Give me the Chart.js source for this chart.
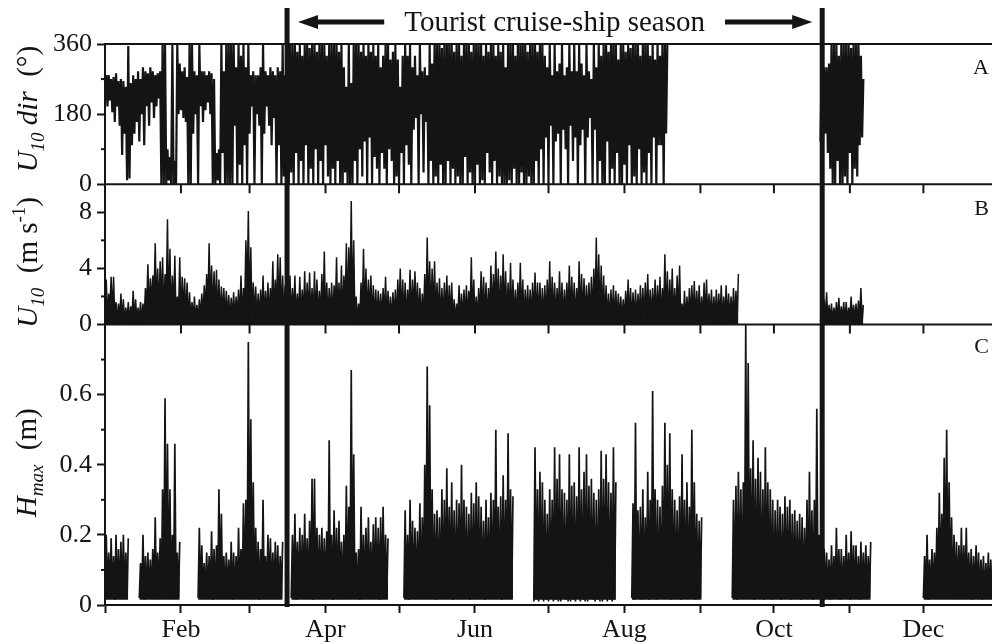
<!DOCTYPE html>
<html>
<head>
<meta charset="utf-8">
<script src="https://cdn.jsdelivr.net/npm/chart.js@4.4.1/dist/chart.umd.min.js"></script>
<style>
  html, body { margin: 0; padding: 0; background: #fff; }
  #wrap { position: relative; width: 992px; height: 642px; }
</style>
</head>
<body>
<div id="wrap"><canvas id="chart" width="992" height="642"></canvas></div>
<script>
const n = null;

// x axis: day of year
const monthStarts = [0, 31, 59, 90, 120, 151, 181, 212, 243, 273, 304, 334];
const monthLabels = ['', 'Feb', '', 'Apr', '', 'Jun', '', 'Aug', '', 'Oct', '', 'Dec'];
const seasonStart = 74.3;
const seasonEnd = 292.7;
const seasonLabel = 'Tourist cruise-ship season';

const dirTicks = [0, 180, 360], dirMinor = [90, 270];
const speedTicks = [0, 4, 8], speedMinor = [2, 6];
const hmaxTicks = [0, 0.2, 0.4, 0.6], hmaxMinor = [0.1, 0.3, 0.5, 0.7];

// A: wind direction, daily low / high (deg)
const dirLo = [
  230, 200, 215, 185, 160, 200, 150, 75, 130, 10,
  15, 100, 130, 160, 110, 180, 100, 200, 150, 210,
  170, 200, 220, 0, 0, 0, 10, 0, 0, 0,
  180, 190, 170, 160, 0, 0, 130, 180, 0, 200,
  160, 190, 210, 180, 0, 0, 10, 0, 80, 0,
  0, 0, 0, 150, 0, 50, 0, 100, 0, 130,
  200, 0, 180, 150, 0, 130, 200, 150, 100, 170,
  0, 100, 0, 20, 0, 0, 30, 0, 80, 0,
  60, 0, 100, 0, 40, 0, 90, 0, 60, 0,
  100, 20, 0, 40, 0, 60, 0, 0, 30, 0,
  0, 0, 60, 0, 90, 20, 110, 0, 120, 0,
  70, 40, 0, 80, 40, 0, 90, 60, 0, 20,
  0, 80, 0, 100, 50, 0, 140, 170, 0, 180,
  30, 160, 0, 60, 0, 20, 0, 50, 0, 0,
  60, 0, 40, 0, 20, 0, 0, 70, 0, 30,
  0, 0, 50, 0, 10, 0, 80, 30, 0, 60,
  0, 20, 0, 0, 0, 10, 0, 40, 0, 0,
  30, 0, 0, 20, 0, 0, 60, 0, 90, 0,
  120, 0, 150, 0, 110, 130, 0, 140, 90, 0,
  150, 60, 120, 0, 100, 140, 0, 120, 170, 0,
  140, 0, 60, 0, 0, 110, 0, 40, 0, 80,
  0, 0, 50, 0, 100, 0, 20, 0, 90, 0,
  30, 0, 80, 0, 120, 0, 100, 100, 0, 130,
  n, n, n, n, n, n, n, n, n, n,
  n, n, n, n, n, n, n, n, n, n,
  n, n, n, n, n, n, n, n, n, n,
  n, n, n, n, n, n, n, n, n, n,
  n, n, n, n, n, n, n, n, n, n,
  n, n, n, n, n, n, n, n, n, n,
  n, n, 110, 100, 130, 80, 40, 0, 0, 60,
  0, 0, 20, 0, 80, 0, 40, 20, 100, 120,
  n, n, n, n, n, n, n, n, n, n,
  n, n, n, n, n, n, n, n, n, n,
  n, n, n, n, n, n, n, n, n, n,
  n, n, n, n, n, n, n, n, n, n,
  n, n, n, n, n, n, n, n, n, n,
  n, n, n
];
const dirHi = [
  280, 280, 270, 275, 285, 265, 270, 265, 250, 355,
  260, 280, 270, 290, 270, 300, 290, 285, 300, 290,
  280, 285, 290, 360, 360, 90, 70, 360, 60, 360,
  310, 290, 300, 275, 360, 360, 290, 280, 360, 290,
  290, 280, 290, 285, 270, 80, 90, 360, 290, 360,
  360, 360, 360, 300, 360, 330, 360, 300, 360, 280,
  290, 280, 280, 300, 360, 290, 280, 300, 290, 280,
  300, 290, 360, 280, 360, 360, 360, 360, 340, 360,
  330, 360, 360, 350, 360, 360, 340, 360, 360, 360,
  330, 360, 360, 360, 360, 340, 360, 300, 250, 360,
  260, 360, 360, 360, 340, 360, 330, 360, 340, 360,
  330, 360, 300, 330, 360, 360, 320, 340, 360, 320,
  250, 330, 360, 330, 360, 300, 330, 280, 360, 290,
  300, 280, 360, 310, 360, 360, 360, 350, 360, 360,
  360, 360, 340, 360, 360, 330, 360, 360, 360, 340,
  360, 360, 360, 360, 330, 360, 340, 360, 360, 330,
  360, 340, 360, 300, 360, 360, 360, 330, 360, 360,
  360, 360, 340, 360, 360, 360, 340, 360, 360, 330,
  300, 360, 280, 360, 290, 310, 360, 280, 300, 360,
  290, 360, 290, 360, 310, 280, 360, 290, 270, 360,
  300, 360, 330, 360, 360, 340, 360, 360, 360, 320,
  360, 360, 340, 360, 350, 360, 360, 360, 330, 360,
  360, 360, 330, 360, 320, 360, 330, 360, 360, 360,
  n, n, n, n, n, n, n, n, n, n,
  n, n, n, n, n, n, n, n, n, n,
  n, n, n, n, n, n, n, n, n, n,
  n, n, n, n, n, n, n, n, n, n,
  n, n, n, n, n, n, n, n, n, n,
  n, n, n, n, n, n, n, n, n, n,
  n, n, 310, 300, 300, 310, 360, 360, 360, 330,
  360, 360, 360, 360, 350, 360, 360, 360, 330, 270,
  n, n, n, n, n, n, n, n, n, n,
  n, n, n, n, n, n, n, n, n, n,
  n, n, n, n, n, n, n, n, n, n,
  n, n, n, n, n, n, n, n, n, n,
  n, n, n, n, n, n, n, n, n, n,
  n, n, n
];

// B: wind speed, daily low / high (m/s)
const speedLo = [
  0.8, 0.5, 1.2, 0.6, 0.3, 0.2, 0.4, 0.3, 0.2, 0.3,
  0.2, 0.4, 0.3, 0.2, 0.3, 0.2, 0.5, 1.2, 0.8, 1.5,
  2.0, 1.2, 0.8, 1.5, 0.6, 1.8, 0.5, 0.3, 1.0, 0.3,
  0.6, 0.4, 0.8, 0.3, 0.2, 0.3, 0.4, 0.2, 0.3, 0.5,
  0.6, 1.0, 1.5, 1.2, 0.6, 0.8, 0.3, 0.4, 0.6, 0.3,
  0.4, 0.2, 0.5, 0.3, 0.6, 0.4, 0.3, 1.2, 2.0, 0.8,
  0.3, 0.5, 0.2, 0.4, 0.6, 0.3, 0.5, 0.4, 1.0, 0.6,
  1.2, 0.8, 0.4, 0.3, 0.2, 0.5, 0.3, 0.6, 0.2, 0.4,
  0.3, 0.5, 0.2, 0.6, 0.3, 0.4, 0.2, 0.3, 0.5, 0.8,
  0.4, 0.2, 0.5, 0.3, 1.0, 0.4, 0.6, 0.3, 1.2, 0.8,
  1.5, 0.6, 0.3, 0.2, 0.4, 0.8, 0.5, 0.3, 0.6, 0.2,
  0.3, 0.2, 0.4, 0.3, 0.5, 0.2, 0.3, 0.2, 0.4, 0.3,
  0.6, 0.3, 0.4, 0.2, 0.8, 0.4, 1.0, 0.5, 0.3, 0.2,
  0.4, 0.8, 0.6, 0.5, 0.7, 0.3, 0.4, 0.2, 0.3, 0.5,
  0.3, 0.4, 0.2, 0.2, 0.4, 0.3, 0.2, 0.5, 0.3, 0.6,
  0.4, 0.2, 0.3, 0.5, 0.4, 0.3, 0.2, 0.6, 0.4, 0.8,
  0.5, 0.3, 0.7, 0.4, 0.3, 0.5, 0.3, 0.2, 0.3, 0.6,
  0.3, 0.2, 0.4, 0.2, 0.3, 0.5, 0.3, 0.4, 0.2, 0.3,
  0.4, 0.6, 0.3, 0.4, 0.2, 0.5, 0.3, 0.2, 0.4, 0.6,
  0.3, 0.4, 0.2, 0.6, 0.4, 0.3, 0.2, 0.4, 0.3, 0.5,
  0.8, 0.6, 0.4, 0.3, 0.2, 0.3, 0.2, 0.4, 0.2, 0.3,
  0.2, 0.2, 0.3, 0.4, 0.3, 0.2, 0.3, 0.2, 0.4, 0.3,
  0.3, 0.5, 0.2, 0.3, 0.4, 0.3, 0.5, 0.2, 0.7, 0.4,
  0.3, 0.5, 0.2, 0.4, 0.5, 0.2, 0.3, 0.2, 0.3, 0.4,
  0.3, 0.2, 0.4, 0.2, 0.3, 0.4, 0.2, 0.3, 0.2, 0.3,
  0.2, 0.3, 0.2, 0.4, 0.2, 0.2, 0.3, 0.2, 0.4, n,
  n, n, n, n, n, n, n, n, n, n,
  n, n, n, n, n, n, n, n, n, n,
  n, n, n, n, n, n, n, n, n, n,
  n, n, 0.2, 0.3, 0.4, 0.2, 0.3, 0.2, 0.3, 0.4,
  0.2, 0.3, 0.2, 0.2, 0.4, 0.2, 0.3, 0.2, 0.4, 0.2,
  n, n, n, n, n, n, n, n, n, n,
  n, n, n, n, n, n, n, n, n, n,
  n, n, n, n, n, n, n, n, n, n,
  n, n, n, n, n, n, n, n, n, n,
  n, n, n, n, n, n, n, n, n, n,
  n, n, n
];
const speedHi = [
  3.2, 2.2, 3.4, 3.4, 1.6, 1.5, 2.2, 1.8, 1.2, 1.6,
  1.3, 2.4, 1.8, 1.2, 1.6, 1.5, 2.6, 4.3, 3.3, 3.5,
  5.8, 4.0, 4.5, 4.8, 3.6, 7.5, 5.4, 3.5, 4.9, 2.0,
  4.8, 3.4, 3.3, 3.0, 2.3, 1.6, 2.0, 1.4, 1.8, 2.2,
  2.8, 3.6, 5.8, 4.2, 3.8, 3.9, 3.2, 2.7, 2.6, 2.4,
  2.1, 1.9, 2.3, 2.0, 2.5, 3.5, 2.6, 6.0, 8.1, 5.5,
  3.0, 2.7, 2.2, 2.5, 3.5, 2.4, 3.0, 2.6, 4.5, 3.2,
  5.0, 4.8, 3.5, 2.8, 3.5, 3.5, 2.6, 3.5, 2.2, 3.4,
  2.5, 3.8, 3.0, 3.7, 2.6, 3.8, 3.2, 2.4, 3.6, 5.2,
  3.0, 2.6, 3.0, 2.8, 4.8, 3.0, 4.2, 3.5, 5.8, 5.5,
  8.8, 6.0, 2.0, 1.5, 3.0, 5.4, 4.0, 3.2, 3.5, 2.8,
  2.5, 2.4, 2.2, 2.6, 3.4, 2.4, 2.0, 2.3, 2.5, 3.2,
  4.0, 3.2, 3.0, 2.5, 3.9, 3.2, 3.8, 3.0, 2.6, 2.2,
  3.6, 6.2, 4.5, 4.0, 4.5, 3.0, 3.3, 2.6, 3.0, 3.5,
  2.8, 3.0, 1.8, 1.5, 2.8, 2.2, 2.5, 2.8, 2.4, 4.8,
  3.2, 2.0, 2.6, 3.8, 3.4, 3.0, 2.6, 4.2, 3.6, 5.2,
  4.0, 3.5, 5.0, 3.8, 3.0, 4.4, 3.2, 2.5, 3.0, 4.4,
  3.2, 2.5, 2.8, 2.5, 3.0, 3.7, 3.0, 3.0, 2.6, 2.8,
  3.2, 4.5, 3.4, 3.0, 2.6, 3.8, 3.0, 2.5, 3.0, 4.2,
  3.4, 3.0, 2.6, 4.5, 3.6, 3.3, 2.8, 3.0, 3.4, 4.0,
  6.2, 5.0, 4.2, 3.5, 2.8, 2.2, 2.5, 2.8, 2.4, 2.2,
  2.0, 1.8, 2.4, 3.2, 2.6, 2.3, 2.5, 2.2, 2.8, 2.6,
  3.0, 3.6, 2.5, 2.6, 3.2, 2.8, 3.4, 2.6, 5.0, 3.8,
  3.2, 4.0, 2.6, 3.5, 4.2, 1.5, 2.4, 2.0, 2.6, 2.8,
  3.1, 2.4, 2.8, 2.0, 3.0, 3.2, 2.2, 2.5, 2.0, 2.5,
  2.2, 2.8, 2.0, 2.8, 2.2, 2.0, 2.6, 2.4, 3.6, n,
  n, n, n, n, n, n, n, n, n, n,
  n, n, n, n, n, n, n, n, n, n,
  n, n, n, n, n, n, n, n, n, n,
  n, n, 1.2, 1.8, 2.3, 1.4, 1.5, 1.2, 1.6, 1.9,
  1.3, 1.6, 1.6, 1.2, 2.0, 1.4, 1.5, 1.7, 2.6, 1.4,
  n, n, n, n, n, n, n, n, n, n,
  n, n, n, n, n, n, n, n, n, n,
  n, n, n, n, n, n, n, n, n, n,
  n, n, n, n, n, n, n, n, n, n,
  n, n, n, n, n, n, n, n, n, n,
  n, n, n
];

// C: maximum wave height, daily low / high (m)
const hmaxLo = [
  0.02, 0.025, 0.02, 0.02, 0.015, 0.02, 0.02, 0.025, 0.02, 0.02,
  n, n, n, n, 0.02, 0.02, 0.015, 0.02, 0.02, 0.025,
  0.02, 0.02, 0.02, 0.03, 0.04, 0.03, 0.02, 0.02, 0.03, 0.02,
  0.02, n, n, n, n, n, n, n, 0.02, 0.02,
  0.025, 0.02, 0.02, 0.02, 0.015, 0.02, 0.02, 0.025, 0.02, 0.02,
  0.02, 0.02, 0.015, 0.02, 0.02, 0.02, 0.025, 0.03, 0.03, 0.02,
  0.02, 0.02, 0.02, 0.015, 0.02, 0.02, 0.02, 0.025, 0.02, 0.02,
  0.02, 0.02, 0.02, n, n, n, 0.02, 0.02, 0.015, 0.02,
  0.02, 0.025, 0.02, 0.02, 0.02, 0.015, 0.02, 0.02, 0.025, 0.02,
  0.02, 0.02, 0.02, 0.015, 0.02, 0.02, 0.02, 0.02, 0.025, 0.02,
  0.03, 0.02, 0.02, 0.02, 0.015, 0.02, 0.02, 0.02, 0.02, 0.025,
  0.02, 0.02, 0.015, 0.02, 0.02, 0.02, n, n, n, n,
  n, n, 0.02, 0.02, 0.015, 0.02, 0.02, 0.025, 0.02, 0.02,
  0.03, 0.04, 0.03, 0.02, 0.02, 0.015, 0.02, 0.02, 0.02, 0.025,
  0.02, 0.02, 0.015, 0.02, 0.02, 0.02, 0.025, 0.02, 0.02, 0.015,
  0.02, 0.02, 0.02, 0.025, 0.02, 0.015, 0.02, 0.02, 0.02, 0.03,
  0.02, 0.02, 0.015, 0.02, 0.025, 0.02, 0.02, n, n, n,
  n, n, n, n, n, 0.01, 0.015, 0.01, 0.02, 0.01,
  0.015, 0.01, 0.02, 0.01, 0.015, 0.01, 0.01, 0.02, 0.015, 0.01,
  0.01, 0.015, 0.01, 0.02, 0.01, 0.015, 0.01, 0.01, 0.02, 0.015,
  0.01, 0.015, 0.01, 0.01, 0.02, 0.01, 0.015, 0.01, 0.015, n,
  n, n, n, n, n, 0.02, 0.015, 0.02, 0.02, 0.015,
  0.02, 0.02, 0.015, 0.02, 0.02, 0.015, 0.02, 0.02, 0.025, 0.02,
  0.02, 0.015, 0.02, 0.02, 0.02, 0.015, 0.02, 0.02, 0.02, 0.02,
  0.02, 0.015, 0.02, 0.02, n, n, n, n, n, n,
  n, n, n, n, n, n, 0.02, 0.02, 0.015, 0.02,
  0.02, 0.06, 0.04, 0.02, 0.02, 0.015, 0.02, 0.02, 0.02, 0.015,
  0.02, 0.02, 0.015, 0.02, 0.02, 0.02, 0.015, 0.02, 0.02, 0.02,
  0.015, 0.02, 0.02, 0.02, 0.015, 0.02, 0.02, 0.02, 0.02, 0.015,
  0.02, 0.02, 0.02, 0.015, 0.02, 0.02, 0.015, 0.02, 0.02, 0.02,
  0.015, 0.02, 0.02, 0.02, 0.015, 0.02, 0.02, 0.02, 0.015, 0.02,
  0.02, 0.02, 0.02, n, n, n, n, n, n, n,
  n, n, n, n, n, n, n, n, n, n,
  n, n, n, n, 0.02, 0.02, 0.015, 0.02, 0.02, 0.03,
  0.04, 0.05, 0.06, 0.05, 0.04, 0.03, 0.02, 0.03, 0.02, 0.02,
  0.02, 0.03, 0.02, 0.02, 0.015, 0.02, 0.02, 0.02, 0.015, 0.02,
  0.02, 0.02, 0.02
];
const hmaxHi = [
  0.2, 0.15, 0.19, 0.14, 0.2, 0.16, 0.18, 0.2, 0.15, 0.19,
  n, n, n, n, 0.12, 0.2, 0.14, 0.15, 0.13, 0.16,
  0.25, 0.15, 0.19, 0.33, 0.59, 0.46, 0.33, 0.2, 0.46, 0.15,
  0.18, n, n, n, n, n, n, n, 0.22, 0.17,
  0.12, 0.15, 0.14, 0.21, 0.16, 0.17, 0.33, 0.26, 0.14, 0.15,
  0.13, 0.18, 0.15, 0.14, 0.22, 0.16, 0.29, 0.3, 0.75, 0.53,
  0.35, 0.22, 0.18, 0.16, 0.3, 0.14, 0.2, 0.19, 0.15, 0.18,
  0.17, 0.14, 0.18, n, n, n, 0.2, 0.26, 0.18, 0.22,
  0.2, 0.26, 0.19, 0.24, 0.36, 0.36, 0.22, 0.2, 0.22, 0.19,
  0.21, 0.47, 0.2, 0.27, 0.22, 0.24, 0.18, 0.2, 0.34, 0.28,
  0.67, 0.43, 0.15, 0.16, 0.28, 0.2, 0.22, 0.25, 0.18, 0.23,
  0.25, 0.22, 0.25, 0.28, 0.2, 0.19, n, n, n, n,
  n, n, 0.27, 0.2, 0.3, 0.24, 0.22, 0.21, 0.29, 0.25,
  0.4, 0.68, 0.57, 0.33, 0.26, 0.27, 0.25, 0.33, 0.3, 0.39,
  0.28, 0.35, 0.27, 0.3, 0.29, 0.4, 0.3, 0.28, 0.26, 0.32,
  0.29, 0.35, 0.31, 0.28, 0.24, 0.3, 0.25, 0.32, 0.3, 0.5,
  0.28, 0.31, 0.37, 0.3, 0.49, 0.33, 0.31, n, n, n,
  n, n, n, n, n, 0.45, 0.33, 0.38, 0.35, 0.3,
  0.26, 0.33, 0.3, 0.45, 0.36, 0.43, 0.33, 0.32, 0.3, 0.43,
  0.34, 0.35, 0.31, 0.45, 0.33, 0.38, 0.43, 0.34, 0.36, 0.32,
  0.3, 0.33, 0.44, 0.36, 0.43, 0.35, 0.32, 0.45, 0.35, n,
  n, n, n, n, n, 0.29, 0.52, 0.27, 0.28, 0.33,
  0.25, 0.38, 0.3, 0.61, 0.33, 0.3, 0.28, 0.34, 0.52, 0.4,
  0.49, 0.33, 0.3, 0.27, 0.31, 0.43, 0.3, 0.35, 0.28, 0.5,
  0.35, 0.26, 0.24, 0.25, n, n, n, n, n, n,
  n, n, n, n, n, n, 0.3, 0.34, 0.38, 0.33,
  0.35, 0.8, 0.69, 0.39, 0.47, 0.36, 0.42, 0.38, 0.33, 0.45,
  0.35, 0.33, 0.3, 0.27, 0.3, 0.28, 0.26, 0.31, 0.28, 0.3,
  0.26, 0.27, 0.24, 0.26, 0.25, 0.22, 0.3, 0.38, 0.27, 0.3,
  0.56, 0.2, 0.18, 0.16, 0.15, 0.13, 0.17, 0.14, 0.22, 0.16,
  0.16, 0.14, 0.2, 0.15, 0.21, 0.17, 0.17, 0.14, 0.18, 0.15,
  0.17, 0.14, 0.18, n, n, n, n, n, n, n,
  n, n, n, n, n, n, n, n, n, n,
  n, n, n, n, 0.14, 0.2, 0.13, 0.16, 0.15, 0.22,
  0.32, 0.26, 0.42, 0.5, 0.35, 0.25, 0.2, 0.18, 0.17, 0.22,
  0.17, 0.22, 0.15, 0.16, 0.14, 0.17, 0.15, 0.13, 0.14, 0.12,
  0.15, 0.13, 0.14
];

const INK = '#141414';
const SERIF = '"Liberation Serif", "Times New Roman", serif';
Chart.defaults.font.family = SERIF;
Chart.defaults.color = INK;

// each day drawn as a low -> high swing so the trace looks like the dense record
function swing(lo, hi) {
  const pts = [];
  hi.forEach((h, d) => {
    if (h === null) { pts.push({ x: d, y: null }); return; }
    pts.push({ x: d, y: lo[d] });
    pts.push({ x: d + 0.5, y: h });
  });
  return pts;
}

function yScale(min, max, ticks, weight) {
  return {
    type: 'linear',
    position: 'left',
    stack: 'panels',
    stackWeight: weight,
    min: min,
    max: max,
    afterBuildTicks: s => { s.ticks = ticks.map(v => ({ value: v })); },
    afterFit: s => { s.width = 105; },
    ticks: { font: { size: 26 }, padding: 5, color: INK },
    grid: { drawOnChartArea: false, tickLength: 8, tickWidth: 2, color: INK },
    border: { color: INK, width: 2 }
  };
}

function richTitle(ctx, parts, cx, cy) {
  ctx.save();
  ctx.translate(cx, cy);
  ctx.rotate(-Math.PI / 2);
  ctx.textBaseline = 'alphabetic';
  ctx.textAlign = 'left';
  let total = 0;
  parts.forEach(p => { ctx.font = p.f; total += ctx.measureText(p.t).width; });
  let pos = -total / 2;
  parts.forEach(p => {
    ctx.font = p.f;
    ctx.fillText(p.t, pos, p.dy || 0);
    pos += ctx.measureText(p.t).width;
  });
  ctx.restore();
}

const IT = 'italic 29px ' + SERIF, RM = '29px ' + SERIF;
const ITS = 'italic 19px ' + SERIF, RMS = '19px ' + SERIF;

const decor = {
  id: 'decor',
  afterDraw(chart) {
    const ctx = chart.ctx;
    const x = chart.scales.x;
    const area = chart.chartArea;
    const yA = chart.scales.yA, yB = chart.scales.yB, yC = chart.scales.yC;
    ctx.save();
    ctx.strokeStyle = INK;
    ctx.fillStyle = INK;

    // panel frame lines
    ctx.lineWidth = 2;
    [yA, yB, yC].forEach(s => {
      ctx.beginPath();
      ctx.moveTo(area.left - 1, s.top);
      ctx.lineTo(area.right, s.top);
      ctx.stroke();
    });

    // month ticks under panels A and B
    [yA, yB].forEach(s => {
      monthStarts.forEach(d => {
        const px = x.getPixelForValue(d);
        ctx.beginPath();
        ctx.moveTo(px, s.bottom);
        ctx.lineTo(px, s.bottom + 9);
        ctx.stroke();
      });
    });

    // minor y ticks
    [[yA, dirMinor], [yB, speedMinor], [yC, hmaxMinor]].forEach(([s, vals]) => {
      vals.forEach(v => {
        const py = s.getPixelForValue(v);
        ctx.beginPath();
        ctx.moveTo(area.left - 4, py);
        ctx.lineTo(area.left, py);
        ctx.stroke();
      });
    });

    // season bounds
    const p1 = x.getPixelForValue(seasonStart);
    const p2 = x.getPixelForValue(seasonEnd);
    ctx.lineWidth = 5;
    [p1, p2].forEach(px => {
      ctx.beginPath();
      ctx.moveTo(px, 8);
      ctx.lineTo(px, area.bottom + 2);
      ctx.stroke();
    });

    // season label with arrows
    const mid = (p1 + p2) / 2;
    ctx.font = '29px ' + SERIF;
    ctx.textAlign = 'center';
    ctx.textBaseline = 'alphabetic';
    ctx.fillText(seasonLabel, mid, 31);
    const half = ctx.measureText(seasonLabel).width / 2;
    const ay = 22, head = 20, hw = 7;
    ctx.lineWidth = 5;
    ctx.beginPath();
    ctx.moveTo(mid - half - 20, ay);
    ctx.lineTo(p1 + 11 + head - 2, ay);
    ctx.moveTo(mid + half + 20, ay);
    ctx.lineTo(p2 - 10 - head + 2, ay);
    ctx.stroke();
    ctx.beginPath();
    ctx.moveTo(p1 + 11, ay);
    ctx.lineTo(p1 + 11 + head, ay - hw);
    ctx.lineTo(p1 + 11 + head, ay + hw);
    ctx.closePath();
    ctx.moveTo(p2 - 10, ay);
    ctx.lineTo(p2 - 10 - head, ay - hw);
    ctx.lineTo(p2 - 10 - head, ay + hw);
    ctx.closePath();
    ctx.fill();

    // panel letters
    ctx.font = '22px ' + SERIF;
    ctx.textAlign = 'right';
    ctx.textBaseline = 'middle';
    ctx.fillText('A', 989, yA.top + 24);
    ctx.fillText('B', 989, yB.top + 25);
    ctx.fillText('C', 989, yC.top + 23);

    // axis titles
    richTitle(ctx, [
      { t: 'U', f: IT }, { t: '10', f: ITS, dy: 7 }, { t: ' dir', f: IT }, { t: '  (\u00B0)', f: RM }
    ], 37, (yA.top + yA.bottom) / 2 - 5);
    richTitle(ctx, [
      { t: 'U', f: IT }, { t: '10', f: ITS, dy: 7 }, { t: '  (m s', f: RM }, { t: '-1', f: RMS, dy: -12 }, { t: ')', f: RM }
    ], 37, (yB.top + yB.bottom) / 2 + 8);
    richTitle(ctx, [
      { t: 'H', f: IT }, { t: 'max', f: ITS, dy: 7 }, { t: '  (m)', f: RM }
    ], 36, (yC.top + yC.bottom) / 2 - 2);

    ctx.restore();
  }
};

function trace(lo, hi, axis, width, fill) {
  return {
    data: swing(lo, hi),
    yAxisID: axis,
    borderColor: INK,
    backgroundColor: INK,
    borderWidth: width,
    fill: fill,
    pointRadius: 0,
    tension: 0,
    spanGaps: false
  };
}

new Chart(document.getElementById('chart'), {
  type: 'line',
  data: {
    datasets: [
      trace(dirLo, dirHi, 'yA', 2.2, false),
      trace(speedLo, speedHi, 'yB', 1.5, { value: 0 }),
      trace(hmaxLo, hmaxHi, 'yC', 1.7, { value: 0.015 })
    ]
  },
  options: {
    responsive: false,
    animation: false,
    layout: { padding: { top: 44, right: 0, left: 0, bottom: 0 } },
    plugins: { legend: { display: false }, tooltip: { enabled: false } },
    scales: {
      x: {
        type: 'linear',
        min: 0,
        max: 362,
        afterBuildTicks: s => { s.ticks = monthStarts.map(v => ({ value: v })); },
        afterFit: s => { s.height = 37; },
        ticks: {
          autoSkip: false,
          maxRotation: 0,
          padding: 2,
          font: { size: 26 },
          color: INK,
          callback: (v, i) => monthLabels[i]
        },
        grid: { drawOnChartArea: false, tickLength: 8, tickWidth: 2, color: INK },
        border: { color: INK, width: 2 }
      },
      yC: Object.assign(yScale(0, 0.8, hmaxTicks, 2), { weight: 1 }),
      yB: Object.assign(yScale(0, 10, speedTicks, 1), { weight: 2 }),
      yA: Object.assign(yScale(0, 360, dirTicks, 1), { weight: 3 })
    }
  },
  plugins: [decor]
});
</script>
</body>
</html>
